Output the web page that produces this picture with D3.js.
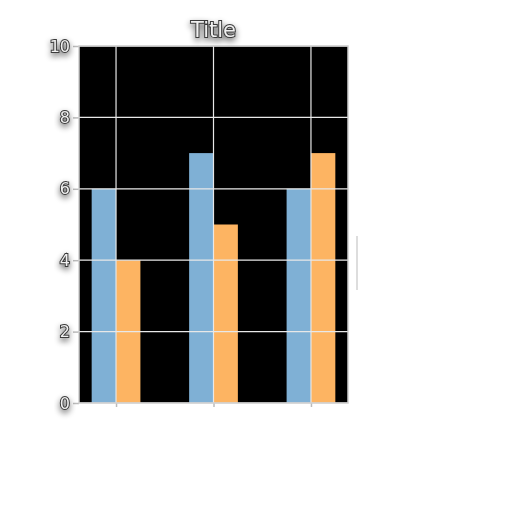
<!DOCTYPE html>
<meta charset="utf-8">
<style>
body { margin: 0; background: #fff; }
.lbl { font-family: "DejaVu Sans", sans-serif; fill: #f0f0f0; stroke: #3a3a3a; stroke-width: 2px; paint-order: stroke; }
</style>
<svg width="512" height="512"></svg>
<script src="https://d3js.org/d3.v7.min.js"></script>
<script>

const groups = [0, 1, 2];
const blueVals = [6, 7, 6];
const orangeVals = [4, 5, 7];
const yTicks = [0, 2, 4, 6, 8, 10];

const LEFT = 79, RIGHT = 348, TOP = 46, BOTTOM = 403;
const BAR_W = 0.25;

var svg = d3.select("svg");

var defs = svg.append("defs");
var f = defs.append("filter").attr("id", "glow").attr("x", "-50%").attr("y", "-50%").attr("width", "200%").attr("height", "200%");
f.append("feGaussianBlur").attr("in", "SourceAlpha").attr("stdDeviation", 3).attr("result", "b");
f.append("feOffset").attr("in", "b").attr("dy", 3).attr("result", "o");
f.append("feComponentTransfer").attr("in", "o").attr("result", "s")
  .append("feFuncA").attr("type", "linear").attr("slope", 0.6);
var m = f.append("feMerge");
m.append("feMergeNode").attr("in", "s");
m.append("feMergeNode").attr("in", "SourceGraphic");

var x = d3.scaleLinear().domain([-0.38, 2.38]).range([LEFT, RIGHT]);
var y = d3.scaleLinear().domain([0, 10]).range([BOTTOM, TOP]);

// background
svg.append("rect")
  .attr("x", LEFT).attr("y", TOP)
  .attr("width", RIGHT - LEFT).attr("height", BOTTOM - TOP)
  .attr("fill", "#000");

// bars
svg.selectAll("rect.blue").data(blueVals).enter().append("rect")
  .attr("class", "blue")
  .attr("x", function(d, i) { return x(groups[i] - BAR_W); })
  .attr("width", x(BAR_W) - x(0))
  .attr("y", function(d) { return y(d); })
  .attr("height", function(d) { return y(0) - y(d); })
  .attr("fill", "#7fb0d5");

svg.selectAll("rect.orange").data(orangeVals).enter().append("rect")
  .attr("class", "orange")
  .attr("x", function(d, i) { return x(groups[i]); })
  .attr("width", x(BAR_W) - x(0))
  .attr("y", function(d) { return y(d); })
  .attr("height", function(d) { return y(0) - y(d); })
  .attr("fill", "#fdb462");

// grid
var grid = svg.append("g").attr("stroke", "#e8e8e8").attr("stroke-width", 1.2);
grid.selectAll("line.gy").data(yTicks).enter().append("line")
  .attr("x1", LEFT).attr("x2", RIGHT)
  .attr("y1", function(d) { return y(d); }).attr("y2", function(d) { return y(d); });
grid.selectAll("line.gx").data(groups).enter().append("line")
  .attr("y1", TOP).attr("y2", BOTTOM)
  .attr("x1", function(d) { return x(d); }).attr("x2", function(d) { return x(d); });

// axes
var yAxis = svg.append("g")
  .attr("transform", "translate(" + LEFT + ",0)")
  .call(d3.axisLeft(y).tickValues(yTicks).tickSize(6).tickPadding(3));
var xAxis = svg.append("g")
  .attr("transform", "translate(0," + BOTTOM + ")")
  .call(d3.axisBottom(x).tickValues(groups).tickSize(4).tickFormat(""));
[yAxis, xAxis].forEach(function(a) {
  a.select(".domain").remove();
  a.selectAll(".tick line").attr("stroke", "#bbb").attr("stroke-width", 1.5);
});
yAxis.selectAll(".tick text")
  .attr("class", "lbl")
  .attr("font-size", 16)
  .attr("fill", null)
  .attr("filter", "url(#glow)");

// frame
svg.append("rect")
  .attr("x", LEFT).attr("y", TOP)
  .attr("width", RIGHT - LEFT).attr("height", BOTTOM - TOP)
  .attr("fill", "none").attr("stroke", "#cfcfcf").attr("stroke-width", 1.5);

// stray mark on the right
svg.append("line")
  .attr("x1", 357).attr("x2", 357).attr("y1", 236).attr("y2", 290)
  .attr("stroke", "#ddd").attr("stroke-width", 2);

// title
svg.append("text")
  .attr("class", "lbl")
  .attr("x", (LEFT + RIGHT) / 2).attr("y", 37)
  .attr("text-anchor", "middle")
  .attr("font-size", 21)
  .attr("filter", "url(#glow)")
  .text("Title");

</script>
